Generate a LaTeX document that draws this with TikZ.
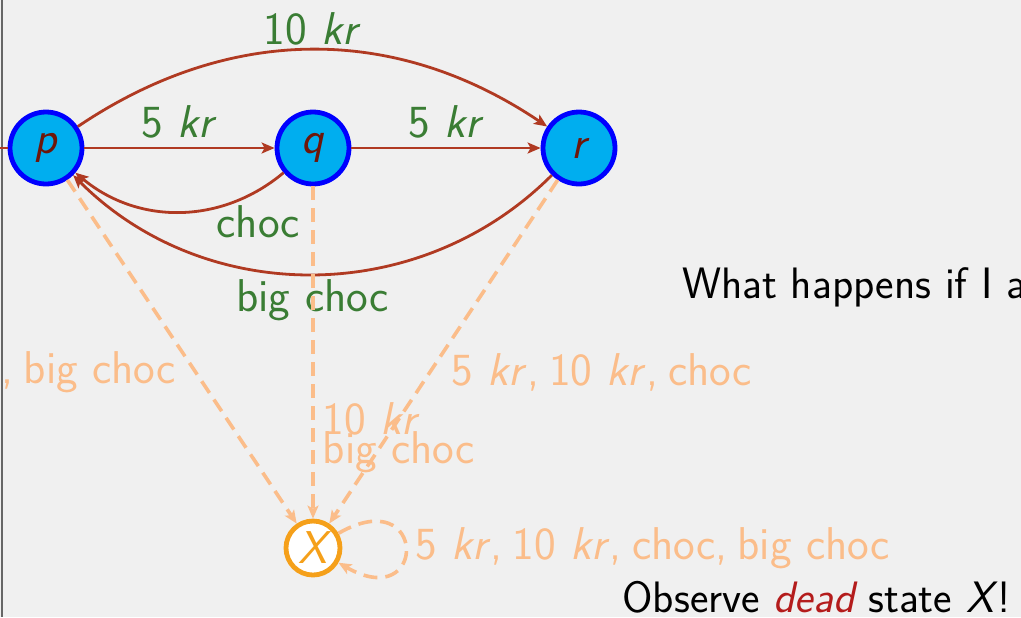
\documentclass[tikz,border=0pt]{standalone}
\usepackage{fontspec}
\usetikzlibrary{arrows.meta,positioning}
\definecolor{slidebg}{RGB}{240,240,240}
\definecolor{stfill}{RGB}{0,174,239}
\definecolor{stborder}{RGB}{0,0,255}
\definecolor{sttext}{RGB}{110,22,10}
\definecolor{edgered}{RGB}{176,58,34}
\definecolor{lblgreen}{RGB}{58,125,52}
\definecolor{trapor}{RGB}{251,189,138}
\definecolor{deador}{RGB}{245,160,26}
\definecolor{alertred}{RGB}{180,28,28}
\newcommand\csep{,\hspace{.22em}}

\begin{document}
\begin{tikzpicture}[x=.5pt,y=-.5pt,
  font=\fontsize{23}{27}\selectfont\sffamily,
  state/.style={circle,fill=stfill,draw=stborder,line width=2.4pt,minimum size=36pt,inner sep=0pt,text=sttext,font=\fontsize{23}{27}\selectfont\sffamily\itshape},
  deadstate/.style={circle,fill=white,draw=deador,line width=2.4pt,minimum size=27pt,inner sep=0pt,text=deador,font=\fontsize{23}{27}\selectfont\sffamily\itshape},
  move/.style={-{Stealth[length=6.5pt,width=5.5pt,inset=1.5pt]},draw=edgered,line width=1.4pt},
  trap/.style={-{Stealth[length=6.5pt,width=5.5pt,inset=1.5pt]},draw=trapor,line width=1.8pt,dash pattern=on 7pt off 4pt},
  glbl/.style={text=lblgreen,inner sep=4pt},
  olbl/.style={text=trapor,inner sep=4pt},
  remark/.style={font=\fontsize{22}{26}\selectfont\sffamily}]
\useasboundingbox (0,0) rectangle (1021,617);
\fill[slidebg] (0,0) rectangle (1021,617);
\clip (0,0) rectangle (1021,617);
\draw[gray!80!black,line width=1pt] (2,0) -- (2,617);
% states
\node[state] (p) at (46,148) {p};
\node[state] (q) at (313,148) {q};
\node[state] (r) at (579,148) {r};
\node[deadstate] (X) at (313,548) {X};
\coordinate (init) at (-60,148);
% moves
\draw[draw=edgered,line width=1.4pt] (init) -- (p);
\draw[move] (p) -- node[glbl,above] {5 \textit{kr}} (q);
\draw[move] (q) -- node[glbl,above] {5 \textit{kr}} (r);
\draw[move] (p) to[bend left=34] node[glbl,above,inner sep=1.5pt] {10 \textit{kr}} (r);
\draw[move] (q) to[bend left=40] node[glbl,below,pos=.13,inner sep=7pt] {choc} (p);
\draw[move] (r) to[bend left=45] node[glbl,below,inner sep=2pt] {big choc} (p);
% dead state
\draw[trap] (p) -- node[olbl,left,pos=.56,xshift=-5pt] {choc\csep big choc} (X);
\draw[trap] (q) -- node[olbl,right,pos=.7] {10 \textit{kr}} node[olbl,right,pos=.8] {big choc} (X);
\draw[trap] (r) -- node[olbl,right,pos=.56,xshift=6pt] {5 \textit{kr}\csep 10 \textit{kr}\csep choc} (X);
\draw[trap] (X) to[out=30,in=-30,looseness=9] node[olbl,right] {5 \textit{kr}\csep 10 \textit{kr}\csep choc\csep big choc} (X);
% remarks
\node[remark,anchor=base west] (ask) at (675,298) {What happens if I a};
\node[remark,anchor=base east] (obs) at (1018,612) {Observe \textcolor{alertred}{\itshape dead} state \textit{X}!};
\end{tikzpicture}
\end{document}
